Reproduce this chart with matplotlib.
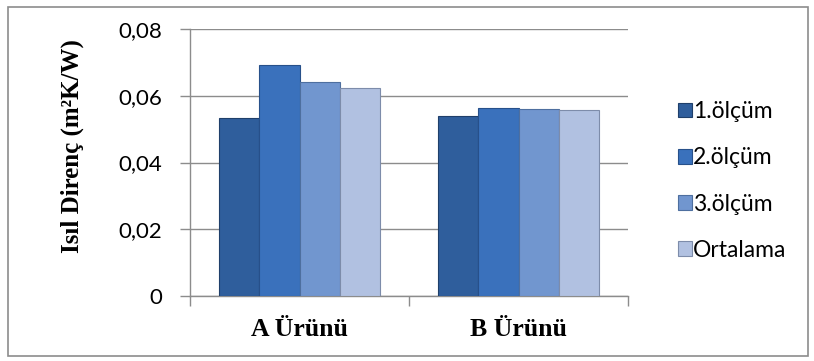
import matplotlib
matplotlib.use("Agg")
import matplotlib.pyplot as plt
from matplotlib.ticker import FixedLocator, FuncFormatter
from matplotlib.patches import Rectangle
import numpy as np

categories = ["A Ürünü", "B Ürünü"]
series_names = ["1.ölçüm", "2.ölçüm", "3.ölçüm", "Ortalama"]
olcum1 = [0.0533, 0.0539]
olcum2 = [0.0692, 0.0564]
olcum3 = [0.0641, 0.0561]
ortalama = [0.0622, 0.0557]
colors = ["#2F5E9C", "#3A71BC", "#7196CF", "#B1C1E1"]
edge_colors = ["#1F3F6A", "#27508A", "#4E6F9F", "#7D8CAA"]

plt.rcParams["font.family"] = ["Lato", "DejaVu Sans"]

fig = plt.figure(figsize=(8.14, 3.61), dpi=100)
ax = fig.add_axes([190 / 814, 1 - 296 / 361, 438 / 814, 267 / 361])

x = np.arange(len(categories))
width = 0.183
values = [olcum1, olcum2, olcum3, ortalama]
for i, vals in enumerate(values):
    ax.bar(x + (i - 1.5) * width, vals, width, color=colors[i],
           edgecolor=edge_colors[i], linewidth=0.8, label=series_names[i], zorder=3)

ax.set_xlim(-0.5, 1.5)
ax.set_ylim(0, 0.08)
ax.set_yticks([0, 0.02, 0.04, 0.06, 0.08])
ax.yaxis.set_major_formatter(FuncFormatter(lambda v, p: "0" if v == 0 else f"{v:.2f}".replace(".", ",")))
ax.grid(axis="y", color="#8C8C8C", linewidth=1.0, zorder=0)

ax.set_xticks(x)
ax.set_xticklabels(categories, fontfamily="Liberation Serif", fontweight="bold", fontsize=18.5)
ax.tick_params(axis="x", which="major", length=0, pad=16)
ax.xaxis.set_minor_locator(FixedLocator([-0.5, 0.5, 1.5]))
ax.tick_params(axis="x", which="minor", length=7, color="#8C8C8C", width=1.0)
ax.tick_params(axis="y", length=7, color="#8C8C8C", width=1.0, labelsize=16, pad=13)

for side in ["top", "right"]:
    ax.spines[side].set_visible(False)
for side in ["left", "bottom"]:
    ax.spines[side].set_color("#8C8C8C")
    ax.spines[side].set_linewidth(1.0)

ax.set_ylabel("Isıl Direnç (m²K/W)", fontfamily="Liberation Serif",
              fontweight="bold", fontsize=18, va="center")
ax.yaxis.set_label_coords((72 - 190) / 438, (296 - 146) / 267)

leg = ax.legend(loc="center left", bbox_to_anchor=(1.068, 0.431), frameon=False,
                fontsize=16.5, handlelength=0.6, handleheight=0.6, handletextpad=0.05,
                labelspacing=1.1)

fig.patches.append(Rectangle((8 / 814, 5 / 361), 800 / 814, 349 / 361,
                             transform=fig.transFigure, fill=False,
                             edgecolor="#8C8C8C", linewidth=1.2))

fig.savefig("out.png", dpi=100)
